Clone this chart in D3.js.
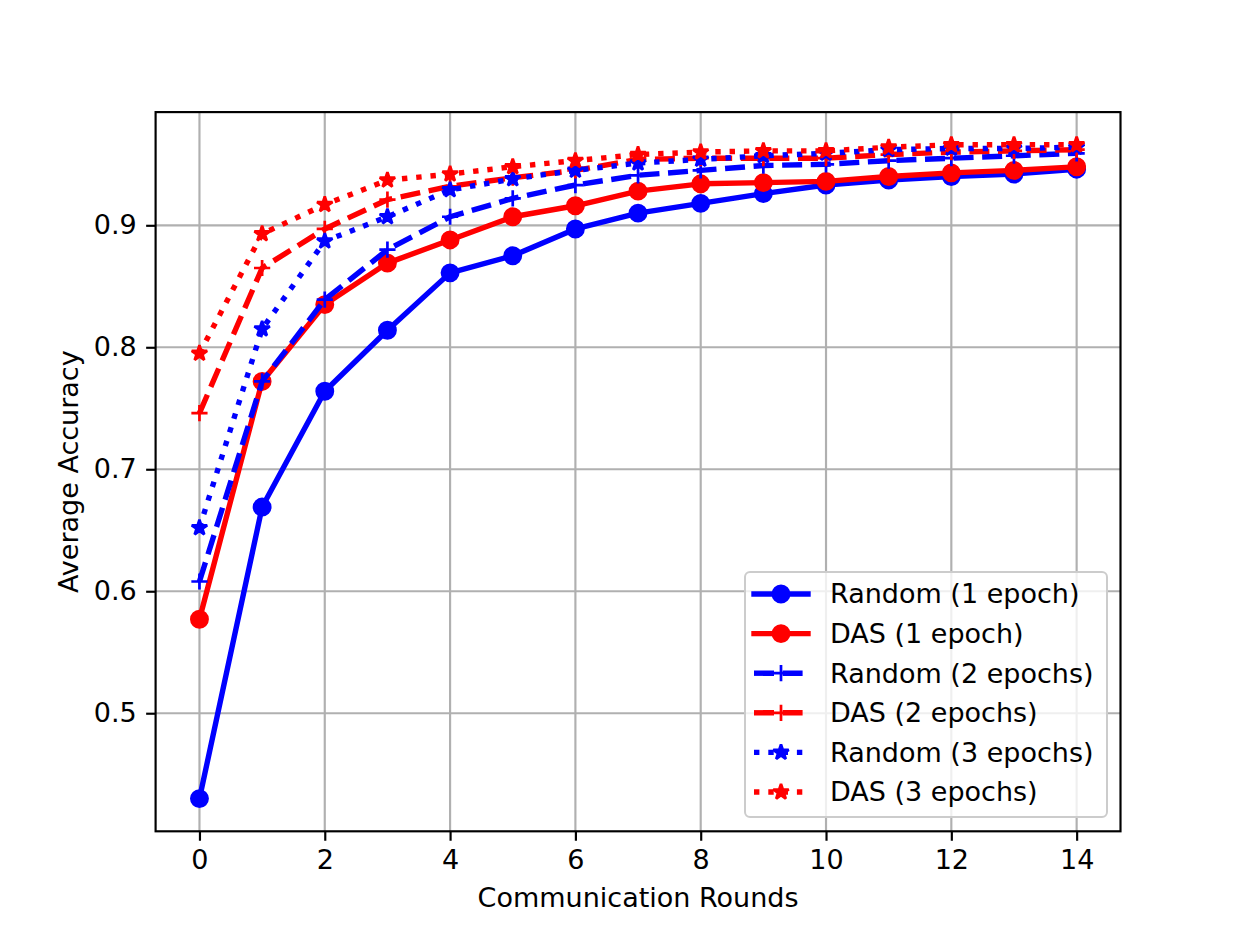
<!DOCTYPE html>
<html>
<head>
<meta charset="utf-8">
<script src="https://cdn.jsdelivr.net/npm/d3@7"></script>
<style>
  body { margin: 0; background: #fff; }
  svg text { font-family: "DejaVu Sans", sans-serif; }
</style>
</head>
<body>
<div id="chart"></div>
<script>
// data
const rounds = [0, 1, 2, 3, 4, 5, 6, 7, 8, 9, 10, 11, 12, 13, 14];
const random1 = [0.430, 0.669, 0.764, 0.814, 0.861, 0.875, 0.897, 0.910, 0.918, 0.926, 0.933, 0.937, 0.940, 0.942, 0.946];
const das1    = [0.577, 0.772, 0.835, 0.869, 0.888, 0.907, 0.916, 0.928, 0.934, 0.935, 0.936, 0.940, 0.943, 0.945, 0.948];
const random2 = [0.608, 0.772, 0.839, 0.880, 0.907, 0.922, 0.933, 0.941, 0.945, 0.949, 0.950, 0.953, 0.955, 0.957, 0.959];
const das2    = [0.746, 0.865, 0.897, 0.921, 0.932, 0.939, 0.945, 0.954, 0.955, 0.955, 0.955, 0.958, 0.960, 0.961, 0.962];
const random3 = [0.652, 0.815, 0.887, 0.907, 0.929, 0.938, 0.945, 0.951, 0.954, 0.957, 0.959, 0.962, 0.963, 0.963, 0.964];
const das3    = [0.795, 0.893, 0.917, 0.937, 0.942, 0.948, 0.953, 0.958, 0.960, 0.961, 0.961, 0.964, 0.966, 0.966, 0.966];
const seriesNames = ["Random (1 epoch)", "DAS (1 epoch)", "Random (2 epochs)", "DAS (2 epochs)", "Random (3 epochs)", "DAS (3 epochs)"];
const xTicks = [0, 2, 4, 6, 8, 10, 12, 14];
const yTicks = [0.5, 0.6, 0.7, 0.8, 0.9];

const series = [
    { name: seriesNames[0], values: random1, color: "#0000ff", dash: null, marker: "circle" },
    { name: seriesNames[1], values: das1, color: "#ff0000", dash: null, marker: "circle" },
    { name: seriesNames[2], values: random2, color: "#0000ff", dash: "20,8.6", marker: "plus" },
    { name: seriesNames[3], values: das2, color: "#ff0000", dash: "20,8.6", marker: "plus" },
    { name: seriesNames[4], values: random3, color: "#0000ff", dash: "5.4,8.9", marker: "star" },
    { name: seriesNames[5], values: das3, color: "#ff0000", dash: "5.4,8.9", marker: "star" }
];

const W = 1245, H = 934;
const pLeft = 155.6, pRight = 1120.5, pTop = 112.1, pBottom = 831.3;
const pt = W / 6.4 / 72; // px per point

// matplotlib style 5% margins
const xMin = d3.min(rounds), xMax = d3.max(rounds);
const allVals = [].concat(random1, das1, random2, das2, random3, das3);
const yMin = d3.min(allVals), yMax = d3.max(allVals);
const xPad = (xMax - xMin) * 0.05, yPad = (yMax - yMin) * 0.05;

const x = d3.scaleLinear().domain([xMin - xPad, xMax + xPad]).range([pLeft, pRight]);
const y = d3.scaleLinear().domain([yMin - yPad, yMax + yPad]).range([pBottom, pTop]);

const svg = d3.select("#chart").append("svg")
    .attr("width", W).attr("height", H)
    .style("display", "block");

svg.append("rect").attr("width", W).attr("height", H).attr("fill", "#fff");

const clipId = "plotclip";
svg.append("clipPath").attr("id", clipId)
    .append("rect").attr("x", pLeft).attr("y", pTop)
    .attr("width", pRight - pLeft).attr("height", pBottom - pTop);

// grid
const grid = svg.append("g").attr("stroke", "#b0b0b0").attr("stroke-width", 0.8 * pt);
grid.selectAll(".gx").data(xTicks).enter().append("line")
    .attr("x1", d => x(d)).attr("x2", d => x(d))
    .attr("y1", pTop).attr("y2", pBottom);
grid.selectAll(".gy").data(yTicks).enter().append("line")
    .attr("x1", pLeft).attr("x2", pRight)
    .attr("y1", d => y(d)).attr("y2", d => y(d));

// marker shapes
const r = 3 * pt; // half of markersize 6
const starPath = (() => {
    const pts = [];
    for (let i = 0; i < 10; i++) {
        const rad = i % 2 === 0 ? r : r * 0.381966;
        const a = -Math.PI / 2 + i * Math.PI / 5;
        pts.push([rad * Math.cos(a), rad * Math.sin(a)]);
    }
    return "M" + pts.map(p => p.join(",")).join("L") + "Z";
})();

function drawMarker(g, kind, color, cx, cy) {
    if (kind === "circle") {
        g.append("circle").attr("cx", cx).attr("cy", cy).attr("r", r)
            .attr("fill", color).attr("stroke", color).attr("stroke-width", pt);
    } else if (kind === "plus") {
        g.append("path")
            .attr("d", `M${cx - r},${cy}H${cx + r}M${cx},${cy - r}V${cy + r}`)
            .attr("stroke", color).attr("stroke-width", pt).attr("fill", "none");
    } else {
        g.append("path").attr("d", starPath)
            .attr("transform", `translate(${cx},${cy})`)
            .attr("fill", color).attr("stroke", color)
            .attr("stroke-width", pt).attr("stroke-linejoin", "bevel");
    }
}

const line = d3.line().x((d, i) => x(rounds[i])).y(d => y(d));
const plot = svg.append("g").attr("clip-path", `url(#${clipId})`);

series.forEach(s => {
    const g = plot.append("g");
    g.append("path")
        .attr("d", line(s.values))
        .attr("fill", "none")
        .attr("stroke", s.color)
        .attr("stroke-width", 2 * pt)
        .attr("stroke-dasharray", s.dash)
        .attr("stroke-linejoin", "round")
        .attr("stroke-linecap", s.dash ? "butt" : "square");
    s.values.forEach((v, i) => drawMarker(g, s.marker, s.color, x(rounds[i]), y(v)));
});

// axes
const fs = 10 * pt;
const xAxis = svg.append("g").attr("transform", `translate(0,${pBottom})`)
    .call(d3.axisBottom(x).tickValues(xTicks).tickSize(3.5 * pt).tickPadding(3.5 * pt).tickFormat(d3.format("d")));
const yAxis = svg.append("g").attr("transform", `translate(${pLeft},0)`)
    .call(d3.axisLeft(y).tickValues(yTicks).tickSize(3.5 * pt).tickPadding(3.5 * pt).tickFormat(d3.format(".1f")));
[xAxis, yAxis].forEach(a => {
    a.select(".domain").remove();
    a.selectAll(".tick line").attr("stroke", "#000").attr("stroke-width", 0.8 * pt);
    a.selectAll(".tick text").attr("fill", "#000")
        .style("font-family", "DejaVu Sans, sans-serif").style("font-size", fs + "px");
});

// frame
svg.append("rect")
    .attr("x", pLeft).attr("y", pTop)
    .attr("width", pRight - pLeft).attr("height", pBottom - pTop)
    .attr("fill", "none").attr("stroke", "#000").attr("stroke-width", 0.8 * pt);

// labels
svg.append("text")
    .attr("x", (pLeft + pRight) / 2).attr("y", 907)
    .attr("text-anchor", "middle")
    .style("font-size", fs + "px")
    .text("Communication Rounds");
svg.append("text")
    .attr("transform", `translate(78,${(pTop + pBottom) / 2}) rotate(-90)`)
    .attr("text-anchor", "middle")
    .style("font-size", fs + "px")
    .text("Average Accuracy");

// legend
const lgX = 745, lgY = 572, lgW = 362, lgH = 245, rowH = 39.6;
const lg = svg.append("g");
lg.append("rect")
    .attr("x", lgX).attr("y", lgY).attr("width", lgW).attr("height", lgH)
    .attr("rx", 5).attr("ry", 5)
    .attr("fill", "#fff").attr("fill-opacity", 0.8)
    .attr("stroke", "#cccccc").attr("stroke-width", 2);
series.forEach((s, i) => {
    const cy = lgY + 22 + i * rowH;
    const x0 = lgX + 9, x1 = x0 + 54;
    lg.append("line")
        .attr("x1", x0).attr("x2", x1).attr("y1", cy).attr("y2", cy)
        .attr("stroke", s.color).attr("stroke-width", 2 * pt)
        .attr("stroke-dasharray", s.dash)
        .attr("stroke-linecap", s.dash ? "butt" : "square");
    drawMarker(lg, s.marker, s.color, (x0 + x1) / 2, cy);
    lg.append("text")
        .attr("x", x1 + 22).attr("y", cy)
        .attr("dy", "0.35em")
        .style("font-size", fs + "px")
        .text(s.name);
});
</script>
</body>
</html>
